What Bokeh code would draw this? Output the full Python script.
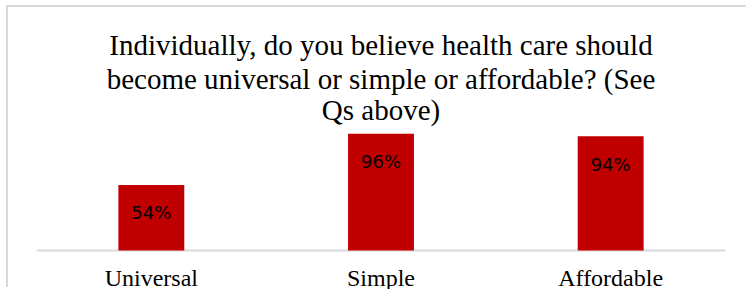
from bokeh.plotting import figure
from bokeh.models import ColumnDataSource, Range1d, Label, LabelSet, Span
from bokeh.core.properties import value
from bokeh.embed import file_html
from bokeh.resources import INLINE

# ---- data ----
categories = ["Universal", "Simple", "Affordable"]
values = [54, 96, 94]
value_labels = ["54%", "96%", "94%"]
title_lines = [
    "Individually, do you believe health care should",
    "become universal or simple or affordable? (See",
    "Qs above)",
]

# figure placed at (8, 7) on the page
OX, OY = 8, 7
W, H = 748 - OX, 289 - OY
FRAME_L, FRAME_R, BASE = 36, 725, 250  # page pixels
K = 1.215  # pixels per percentage point

src = ColumnDataSource(dict(cat=categories, val=values, lab=value_labels,
                            zero=[0] * len(categories)))

p = figure(
    x_range=categories,
    y_range=Range1d(-(289 - BASE) / K, (BASE - OY) / K),
    width=W, height=H,
    output_backend="svg", toolbar_location=None,
    min_border_left=FRAME_L - OX, min_border_right=748 - FRAME_R,
    min_border_top=0, min_border_bottom=0,
    margin=(OY, 0, 0, OX),
    styles={"box-shadow": "-2px -2px 0 0 #d9d9d9"},
)
p.x_range.range_padding = 0
p.background_fill_color = "white"
p.border_fill_color = "white"
p.outline_line_color = None
p.grid.grid_line_color = None
p.xaxis.visible = False
p.yaxis.visible = False

# baseline (category axis line)
p.add_layout(Span(location=0, dimension="width", line_color="#d9d9d9", line_width=2,
                  level="underlay"))

p.vbar(x="cat", top="val", width=0.287, source=src, fill_color="#C00000", line_color=None)

p.add_layout(LabelSet(x="cat", y="val", text="lab", source=src, y_offset=-28,
                      text_align="center", text_baseline="middle",
                      text_font=value("DejaVu Sans"), text_font_size=value("18px"),
                      text_color="#000000"))

# category labels
p.add_layout(LabelSet(x="cat", y="zero", text="cat", source=src, y_offset=-35,
                      text_align="center", text_baseline="alphabetic",
                      text_font=value("Liberation Serif"), text_font_size=value("24px"),
                      text_color="#000000"))

# title lines (page baselines, corrected for label rendering offset)
baselines = [44, 78, 109]
for t, b in zip(title_lines, baselines):
    p.add_layout(Label(x=380.5 - FRAME_L, y=(BASE - b) / K, x_units="screen", y_units="data",
                       text=t, text_align="center", text_baseline="alphabetic",
                       text_font="Liberation Serif", text_font_size="29px",
                       text_color="#000000"))

open("out.html", "w").write(file_html(p, INLINE))
